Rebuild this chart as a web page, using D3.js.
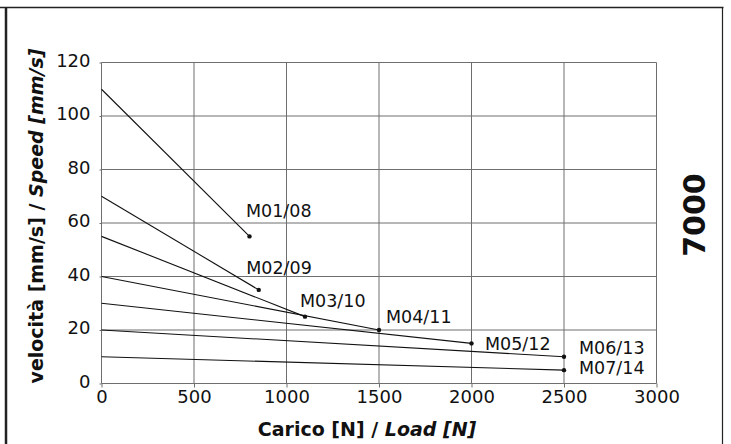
<!DOCTYPE html>
<html>
<head>
<meta charset="utf-8">
<script src="https://cdn.jsdelivr.net/npm/d3@7"></script>
<style>
  body { margin: 0; background: #fff; }
  svg { display: block; font-family: "DejaVu Sans", sans-serif; }
</style>
</head>
<body>
<div id="chart"></div>
<script>
// motor curves: speed [mm/s] against load [N], start at 0 N, end at max load
var motors = ["M01/08", "M02/09", "M03/10", "M04/11", "M05/12", "M06/13", "M07/14"];
var speedAtZero = [110, 70, 55, 40, 30, 20, 10];
var maxLoad = [800, 850, 1100, 1500, 2000, 2500, 2500];
var speedAtMax = [55, 35, 25, 20, 15, 10, 5];
var xTicks = [0, 500, 1000, 1500, 2000, 2500, 3000];
var yTicks = [0, 20, 40, 60, 80, 100, 120];

var width = 731, height = 444;
// label offset from the end point, px
var labelDx = [-3.5, -12.5, -5, 7, 13.5, 15, 15];
var labelDy = [-19.5, -16, -9.5, -7, 7, -2.5, 4];

var svg = d3.select("#chart")
  .append("svg")
  .attr("width", width)
  .attr("height", height);

svg.append("rect").attr("width", width).attr("height", height).attr("fill", "#fff");

// outer frame
svg.append("line").attr("x1", 0).attr("x2", 723.5).attr("y1", 7.5).attr("y2", 7.5)
  .attr("stroke", "#222").attr("stroke-width", 1.5);
svg.append("line").attr("x1", 6).attr("x2", 6).attr("y1", 7).attr("y2", height)
  .attr("stroke", "#222").attr("stroke-width", 2.5);
svg.append("line").attr("x1", 722.5).attr("x2", 722.5).attr("y1", 7).attr("y2", height)
  .attr("stroke", "#222").attr("stroke-width", 1.2);

var x = d3.scaleLinear().domain([0, 3000]).range([101.5, 656.5]);
var y = d3.scaleLinear().domain([0, 120]).range([383.5, 62.5]);

// grid
var grid = svg.append("g").attr("stroke", "#6e6e6e").attr("stroke-width", 1);
grid.selectAll(".vx").data(xTicks).enter().append("line")
  .attr("x1", function(d) { return x(d); }).attr("x2", function(d) { return x(d); })
  .attr("y1", y(120)).attr("y2", y(0));
grid.selectAll(".hy").data(yTicks).enter().append("line")
  .attr("x1", x(0)).attr("x2", x(3000))
  .attr("y1", function(d) { return y(d); }).attr("y2", function(d) { return y(d); });

svg.append("g")
  .attr("transform", "translate(0," + y(0) + ")")
  .call(d3.axisBottom(x).tickValues(xTicks).tickFormat(d3.format("d"))
    .tickSizeInner(4).tickSizeOuter(0).tickPadding(3))
  .call(function(g) {
    g.select(".domain").remove();
    g.selectAll(".tick line").attr("stroke", "#6e6e6e");
    g.selectAll("text").attr("font-size", 18).attr("fill", "#111")
      .attr("font-family", "DejaVu Sans, sans-serif");
  });

svg.append("g")
  .attr("transform", "translate(" + x(0) + ",0)")
  .call(d3.axisLeft(y).tickValues(yTicks).tickFormat(d3.format("d"))
    .tickSizeInner(2).tickSizeOuter(0).tickPadding(9))
  .call(function(g) {
    g.select(".domain").remove();
    g.selectAll(".tick line").attr("stroke", "#6e6e6e");
    g.selectAll("text").attr("font-size", 18).attr("fill", "#111").attr("dy", "0.2em")
      .attr("font-family", "DejaVu Sans, sans-serif");
  });

// curves
var rows = motors.map(function(m, i) {
  return { name: m, x0: 0, y0: speedAtZero[i], x1: maxLoad[i], y1: speedAtMax[i], i: i };
});

svg.append("g").selectAll("line").data(rows).enter().append("line")
  .attr("x1", function(d) { return x(d.x0); })
  .attr("y1", function(d) { return y(d.y0); })
  .attr("x2", function(d) { return x(d.x1); })
  .attr("y2", function(d) { return y(d.y1); })
  .attr("stroke", "#111")
  .attr("stroke-width", 1.1);

svg.append("g").selectAll("circle").data(rows).enter().append("circle")
  .attr("cx", function(d) { return x(d.x1); })
  .attr("cy", function(d) { return y(d.y1); })
  .attr("r", 2.2)
  .attr("fill", "#111");

svg.append("g").selectAll("text").data(rows).enter().append("text")
  .attr("x", function(d) { return x(d.x1) + labelDx[d.i]; })
  .attr("y", function(d) { return y(d.y1) + labelDy[d.i]; })
  .attr("font-size", 17.5)
  .attr("fill", "#111")
  .text(function(d) { return d.name; });

// axis titles
var xt = svg.append("text")
  .attr("x", 367).attr("y", 436)
  .attr("text-anchor", "middle")
  .attr("font-size", 19)
  .attr("font-weight", "bold")
  .attr("fill", "#111");
xt.append("tspan").text("Carico [N] / ");
xt.append("tspan").attr("font-style", "italic").text("Load [N]");

var yt = svg.append("text")
  .attr("transform", "translate(43,216) rotate(-90)")
  .attr("text-anchor", "middle")
  .attr("font-size", 19)
  .attr("font-weight", "bold")
  .attr("fill", "#111");
yt.append("tspan").text("velocità [mm/s] / ");
yt.append("tspan").attr("font-style", "italic").text("Speed [mm/s]");

svg.append("text")
  .attr("transform", "translate(705,215) rotate(-90)")
  .attr("text-anchor", "middle")
  .attr("font-size", 30)
  .attr("font-weight", "bold")
  .attr("fill", "#111")
  .text("7000");
</script>
</body>
</html>
